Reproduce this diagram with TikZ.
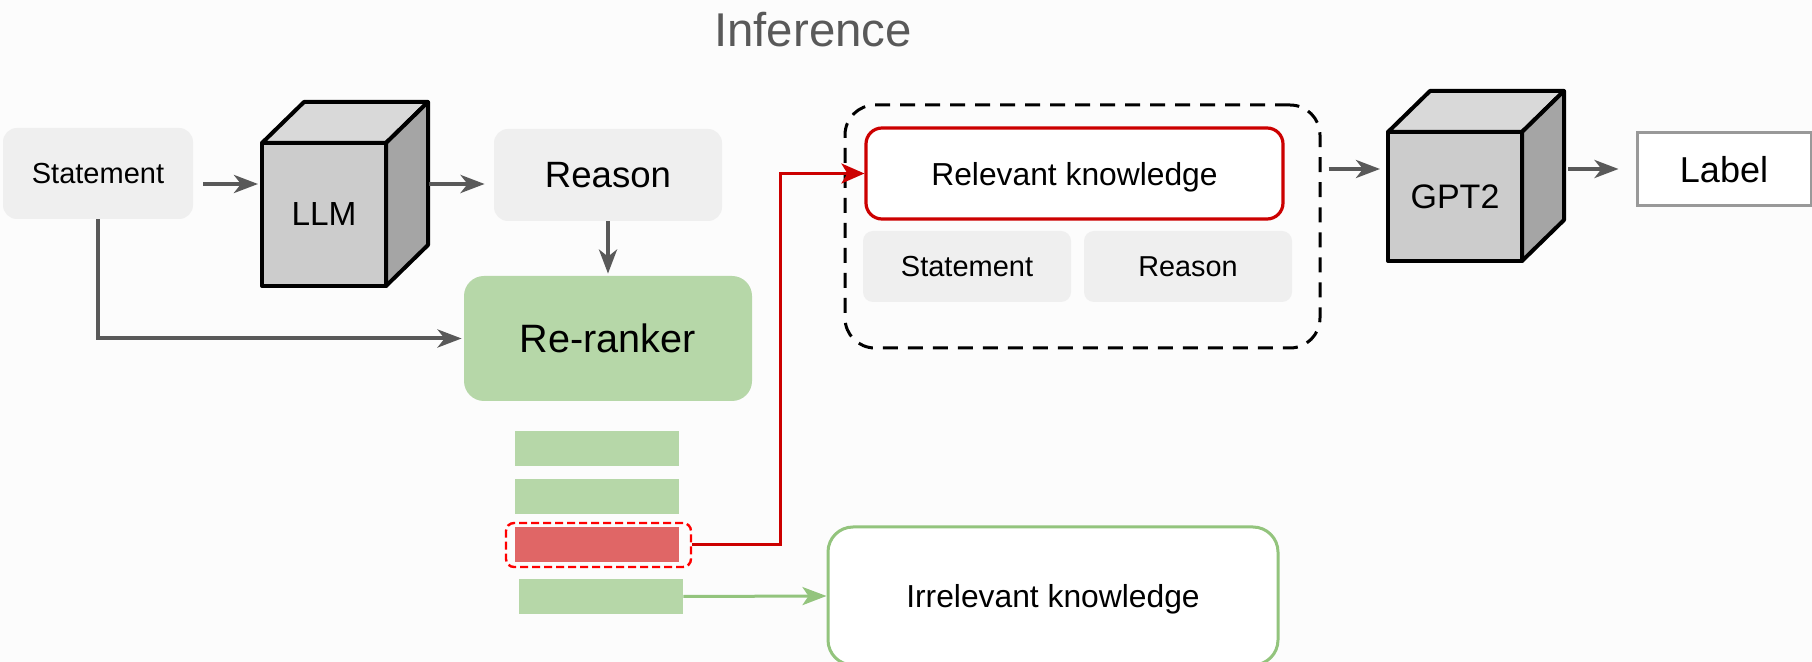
\documentclass[tikz,border=0pt]{standalone}
\usepackage{fontspec}
\setmainfont{Liberation Sans}
\usetikzlibrary{arrows.meta}

\definecolor{bgcol}{HTML}{FCFCFC}
\definecolor{boxgray}{HTML}{EFEFEF}
\definecolor{rankgreen}{HTML}{B6D7A8}
\definecolor{linegreen}{HTML}{93C47D}
\definecolor{barred}{HTML}{E06666}
\definecolor{darkred}{HTML}{CC0000}
\definecolor{arrgray}{HTML}{595959}
\definecolor{cubefront}{HTML}{CCCCCC}
\definecolor{cubetop}{HTML}{D9D9D9}
\definecolor{cubeside}{HTML}{A5A5A5}
\definecolor{labelgray}{HTML}{999999}

\begin{document}
\begin{tikzpicture}[x=0.5pt, y=-0.5pt, every node/.style={text depth=0pt},
    graybox/.style={fill=boxgray, rounded corners=7pt, minimum width=95pt, minimum height=45.5pt},
    cube/.style={draw=black, fill=cubefront, line width=2pt, line join=round, outer sep=0pt},
    cubeface/.style={draw=black, line width=2pt, line join=round},
    rankbox/.style={fill=rankgreen, rounded corners=10pt, minimum width=144pt, minimum height=62.5pt},
    bar/.style={fill=rankgreen, minimum width=82pt, minimum height=17.5pt, inner sep=0pt},
    pickbox/.style={draw=red, dash pattern=on 4pt off 2pt, line width=1.2pt, rounded corners=4pt,
      minimum width=92.5pt, minimum height=22pt},
    outerbox/.style={draw=black, dash pattern=on 7.5pt off 5pt, line width=1.5pt, rounded corners=15pt,
      minimum width=237.5pt, minimum height=121.5pt},
    relbox/.style={draw=darkred, fill=white, line width=1.6pt, rounded corners=8pt,
      minimum width=208.5pt, minimum height=45.5pt},
    labelbox/.style={draw=labelgray, fill=white, line width=1.5pt, minimum width=87pt, minimum height=36.5pt},
    irrbox/.style={draw=linegreen, fill=white, line width=1.5pt, rounded corners=12.5pt,
      minimum width=225pt, minimum height=69pt},
    arr/.style={draw=arrgray, line width=2pt, -{Stealth[length=12pt, width=9pt, inset=3.5pt]}},
    redline/.style={draw=darkred, line width=1.5pt, -{Stealth[length=11.5pt, width=10pt, inset=3pt]}},
    greenline/.style={draw=linegreen, line width=1.5pt, -{Stealth[length=12pt, width=9pt, inset=3pt]}}
  ]

  % page
  \fill[bgcol] (0,0) rectangle (1812,662);
  \useasboundingbox (0,0) rectangle (1812,662);

  \node[font=\fontsize{23.7}{28}\selectfont, text=arrgray] (title) at (813,29) {Inference};

  % generation
  \node[graybox, font=\fontsize{14.5}{17}\selectfont] (stmt) at (98,173.5) {Statement};
  \node[cube, minimum width=62pt, minimum height=71.5pt, font=\fontsize{16.7}{20}\selectfont] (llm) at (324,214.5) {LLM};
  \node[graybox, minimum width=114pt, minimum height=46pt, font=\fontsize{18.3}{22}\selectfont] (reason) at (608,175) {Reason};
  \node[rankbox, font=\fontsize{19.8}{24}\selectfont] (reranker) at (608,338.5) {Re-ranker};

  % ranked knowledge
  \foreach \i/\y in {1/448.5, 2/496.5}
    \node[bar] (b\i) at (597,\y) {};
  \node[bar, fill=barred] (b3) at (597,544.5) {};
  \node[bar] (b4) at (601,596.5) {};
  \node[pickbox] (pick) at (598.5,545) {};

  % classification
  \node[outerbox] (outer) at (1082.5,226.5) {};
  \node[relbox, font=\fontsize{15.9}{19}\selectfont] (relevant) at (1074.5,173.5) {Relevant knowledge};
  \node[graybox, rounded corners=5pt, minimum width=104pt, minimum height=35.5pt,
    font=\fontsize{14.5}{17}\selectfont] (stmt2) at (967,266.5) {Statement};
  \node[graybox, rounded corners=5pt, minimum width=104pt, minimum height=35.5pt,
    font=\fontsize{14.4}{17}\selectfont] (reason2) at (1188,266.5) {Reason};
  \node[cube, minimum width=67pt, minimum height=64.5pt, font=\fontsize{17}{20}\selectfont] (gpt) at (1455,196.5) {GPT2};
  \node[labelbox, font=\fontsize{18}{22}\selectfont] (lab) at (1724,169) {Label};
  \node[irrbox, font=\fontsize{15.9}{19}\selectfont] (irrelevant) at (1053,596) {Irrelevant knowledge};

  % cube faces
  \foreach \c in {llm, gpt} {
    \draw[cubeface, fill=cubetop] (\c.north west) -- ++(42,-41) -- ([shift={(42,-41)}]\c.north east) -- (\c.north east) -- cycle;
    \draw[cubeface, fill=cubeside] (\c.north east) -- ([shift={(42,-41)}]\c.north east)
      -- ([shift={(42,-41)}]\c.south east) -- (\c.south east) -- cycle;
  }

  % arrows
  \draw[arr, shorten >=2pt] ([xshift=5pt,yshift=-5.25pt]stmt.east) coordinate (p1) -- (p1 -| llm.west);
  \draw[arr, shorten >=4.5pt] ([xshift=21.5pt,yshift=15.25pt]llm.east) coordinate (p2) -- (p2 -| reason.west);
  \draw[arr, shorten >=1pt] (reason.south) -- (reranker.north);
  \draw[arr, shorten >=1pt] (stmt.south) |- (reranker.west);
  \draw[arr, shorten >=4pt] ([xshift=3.5pt,yshift=28.75pt]outer.east) coordinate (p5) -- (p5 -| gpt.west);
  \draw[arr, shorten >=8.5pt] ([xshift=23pt,yshift=13.75pt]gpt.east) coordinate (p6) -- (p6 -| lab.west);

  \draw[redline] (pick.east) -- ++(88,0) |- (relevant.west);
  \draw[greenline] (b4.east) -- (irrelevant.west);

\end{tikzpicture}
\end{document}
